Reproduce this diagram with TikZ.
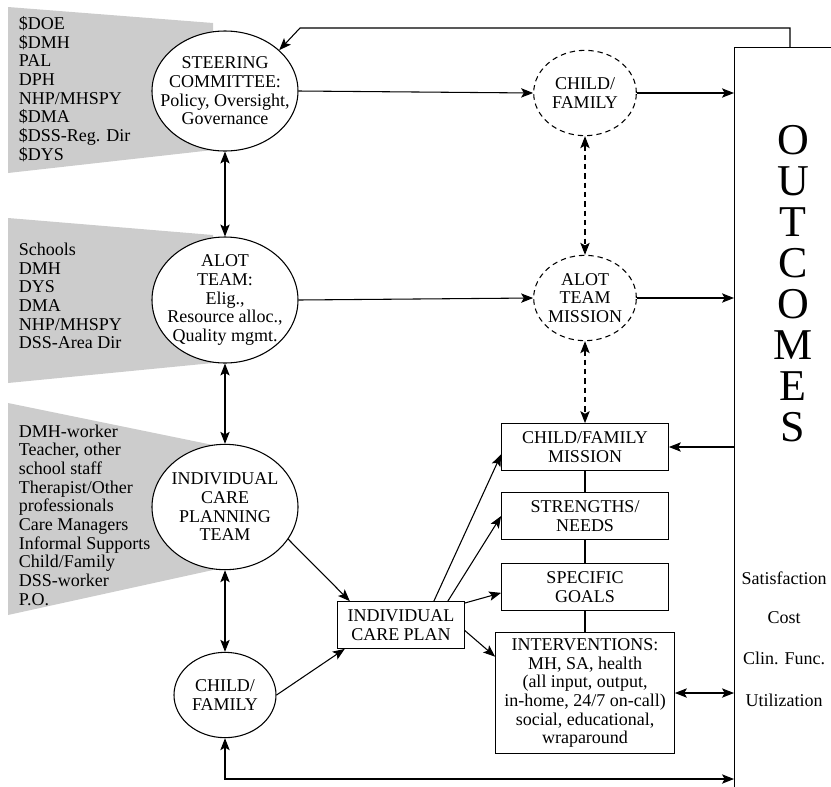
\documentclass[tikz,border=0pt]{standalone}
\usepackage{fontspec}
\setmainfont{Liberation Serif}
\usetikzlibrary{shapes.geometric,arrows.meta}

\begin{document}
\begin{tikzpicture}[x=0.75pt,y=-0.75pt,line width=0.8pt,
  >={Stealth[length=9pt,width=7pt,inset=2pt]},
  font=\fontsize{13.5}{14}\selectfont,
  panel/.style={fill=black!20,draw=none},
  oval/.style={ellipse,draw,fill=white,align=center,inner sep=-12pt},
  dashoval/.style={oval,dash pattern=on 4pt off 3pt},
  box/.style={draw,fill=white,align=center,inner sep=2pt,minimum width=125pt,minimum height=35pt},
  side/.style={anchor=west,align=left}]
\useasboundingbox (0,0) rectangle (831,786);
\clip (0,0) rectangle (831,786);
% grey member panels
\fill[panel] (8,7)--(213,23)--(213,150)--(8,173)--cycle;
\fill[panel] (8,218)--(213,235)--(213,363)--(8,383)--cycle;
\fill[panel] (8,403)--(213,445)--(213,570)--(8,615)--cycle;
\node[side] (mem1) at (14,89) {\$DOE\\\$DMH\\PAL\\DPH\\NHP/MHSPY\\\$DMA\\\$DSS-Reg. Dir\\\$DYS};
\node[side] (mem2) at (14,296) {Schools\\DMH\\DYS\\DMA\\NHP/MHSPY\\DSS-Area Dir};
\node[side] (mem3) at (14,515) {DMH-worker\\Teacher, other\\school staff\\Therapist/Other\\professionals\\Care Managers\\Informal Supports\\Child/Family\\DSS-worker\\P.O.};
% left column
\node[oval,minimum width=109.5pt,minimum height=90pt] (steer) at (225,91) {STEERING\\COMMITTEE:\\Policy, Oversight,\\Governance};
\node[oval,minimum width=109.5pt,minimum height=94.5pt] (alot) at (225,300) {ALOT\\TEAM:\\Elig.,\\Resource alloc.,\\Quality mgmt.};
\node[oval,minimum width=109.5pt,minimum height=94pt] (icpt) at (225,507) {INDIVIDUAL\\CARE\\PLANNING\\TEAM};
\node[oval,minimum width=76.5pt,minimum height=64pt] (cfam) at (225,695) {CHILD/\\FAMILY};
\node[box,minimum width=95pt] (icp) at (401,625) {INDIVIDUAL\\CARE PLAN};
% middle column
\node[dashoval,minimum width=77pt,minimum height=64pt] (cfd) at (585,93) {CHILD/\\FAMILY};
\node[dashoval,minimum width=77pt,minimum height=64pt] (miss) at (585,298) {ALOT\\TEAM\\MISSION};
\node[box] (cfm) at (585,447) {CHILD/FAMILY\\MISSION};
\node[box] (sn) at (585,516) {STRENGTHS/\\NEEDS};
\node[box] (goals) at (585,587) {SPECIFIC\\GOALS};
\node[box,minimum width=134pt,minimum height=91pt] (interv) at (585,693) {INTERVENTIONS:\\MH, SA, health\\(all input, output,\\in-home, 24/7 on-call)\\social, educational,\\wraparound};
% outcomes
\node[draw,anchor=north west,minimum width=150pt,minimum height=640pt] (outc) at (734,47) {};
\foreach \l [count=\i] in {O,U,T,C,O,M,E,S}
  \node[font=\fontsize{33}{33}\selectfont] (out\i) at (793,{140+41*(\i-1)}) {\l};
\foreach \t/\y [count=\i] in {Satisfaction/578,Cost/618,Clin. Func./658,Utilization/700}
  \node (meas\i) at (784,\y) {\t};
% connectors
\coordinate (fb1) at (790,28);\coordinate (fb2) at (300,28);\coordinate (fb3) at (734,779);
\draw[->] (fb1 |- outc.north)--(fb1)--(fb2)--(steer.37);
\draw[<->] (cfam.south) |- (fb3);
\draw[<->] (steer.south)--(alot.north);
\draw[<->] (alot.south)--(icpt.north);
\draw[<->] (icpt.south)--(cfam.north);
\draw[->] (steer.east)--(cfd.west);
\draw[->] (cfd.east)--(cfd.east -| outc.west);
\draw[->] (alot.east)--(miss.west);
\draw[->] (miss.east)--(miss.east -| outc.west);
\draw[<->,dash pattern=on 4pt off 3pt] (cfd.south)--(miss.north);
\draw[<->,dash pattern=on 4pt off 3pt] (miss.south)--(cfm.north);
\draw[->] (outc.west |- cfm.east)--(cfm.east);
\draw[<->] (interv.east)--(interv.east -| outc.west);
\draw (cfm.south)--(sn.north) (sn.south)--(goals.north) (goals.south)--(interv.north);
\draw[->] (icpt.-27)--(icp.155);
\draw[->] (cfam.east)--(icp.203);
\draw[->] (icp.36)--(cfm.185);
\draw[->] (icp.27)--(sn.west);
\draw[->] (icp.19)--(goals.184);
\draw[->] (icp.-5)--(interv.158);
\end{tikzpicture}
\end{document}
